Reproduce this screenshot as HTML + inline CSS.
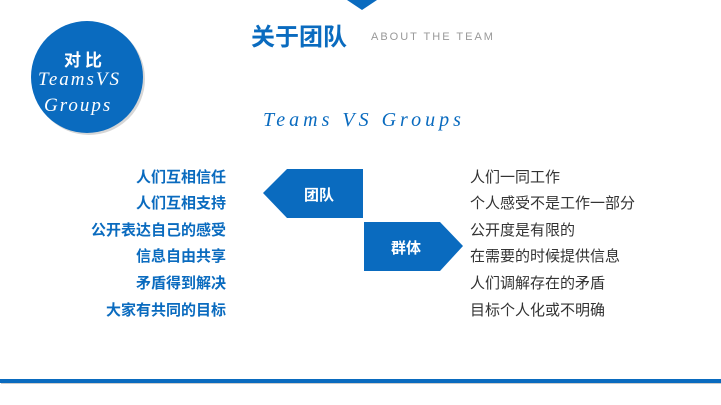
<!DOCTYPE html>
<html><head><meta charset="utf-8"><style>
body{margin:0;width:721px;height:405px;background:#fff;position:relative;overflow:hidden;font-family:"Liberation Sans","Noto Sans CJK SC",sans-serif}
.a{position:absolute;white-space:nowrap}
.l{right:495px;color:#0a6bbf;font-weight:bold;font-size:15px;line-height:20px}
.r{left:470px;color:#333;font-size:15px;line-height:20px}
.c{color:#fff;font-size:19px;font-style:italic;font-family:'Liberation Serif',serif;letter-spacing:2px}
</style></head><body>
<svg class="a" style="left:0;top:0" width="721" height="405">
<polygon points="347,0 377,0 362,10" fill="#0a6bbf"/>
<circle cx="89" cy="79" r="56" fill="#bbb" opacity="0.6"/>
<circle cx="87" cy="77" r="56" fill="#0a6bbf"/>
<polygon points="287,169 363,169 363,218 287,218 263,193" fill="#0a6bbf"/>
<polygon points="364,222 440,222 463,246 440,271 364,271" fill="#0a6bbf"/>
<rect x="1" y="381" width="721" height="3" fill="#ccc"/>
<rect x="0" y="379" width="721" height="4" fill="#0a6bbf"/>
</svg>
<div class="a" style="left:64px;top:46px;color:#fff;font-weight:bold;font-size:17px;letter-spacing:4px">对比</div>
<div class="a c" style="left:38px;top:69px">TeamsVS</div>
<div class="a c" style="left:44px;top:95px">Groups</div>
<div class="a" style="left:251px;top:17px;color:#0a6bbf;font-weight:bold;font-size:24px">关于团队</div>
<div class="a" style="left:371px;top:31px;color:#999;font-size:11px;letter-spacing:2px">ABOUT THE TEAM</div>
<div class="a" style="left:263px;top:109px;color:#0a6bbf;font-size:20px;font-style:italic;font-family:'Liberation Serif',serif;letter-spacing:4px">Teams VS Groups</div>
<div class="a" style="left:304px;top:184px;color:#fff;font-weight:bold;font-size:15px">团队</div>
<div class="a" style="left:391px;top:237px;color:#fff;font-weight:bold;font-size:15px">群体</div>
<div class="a l" style="top:168px">人们互相信任</div>
<div class="a l" style="top:194px">人们互相支持</div>
<div class="a l" style="top:221px">公开表达自己的感受</div>
<div class="a l" style="top:247px">信息自由共享</div>
<div class="a l" style="top:274px">矛盾得到解决</div>
<div class="a l" style="top:301px">大家有共同的目标</div>
<div class="a r" style="top:168px">人们一同工作</div>
<div class="a r" style="top:194px">个人感受不是工作一部分</div>
<div class="a r" style="top:221px">公开度是有限的</div>
<div class="a r" style="top:247px">在需要的时候提供信息</div>
<div class="a r" style="top:274px">人们调解存在的矛盾</div>
<div class="a r" style="top:301px">目标个人化或不明确</div>
</body></html>
